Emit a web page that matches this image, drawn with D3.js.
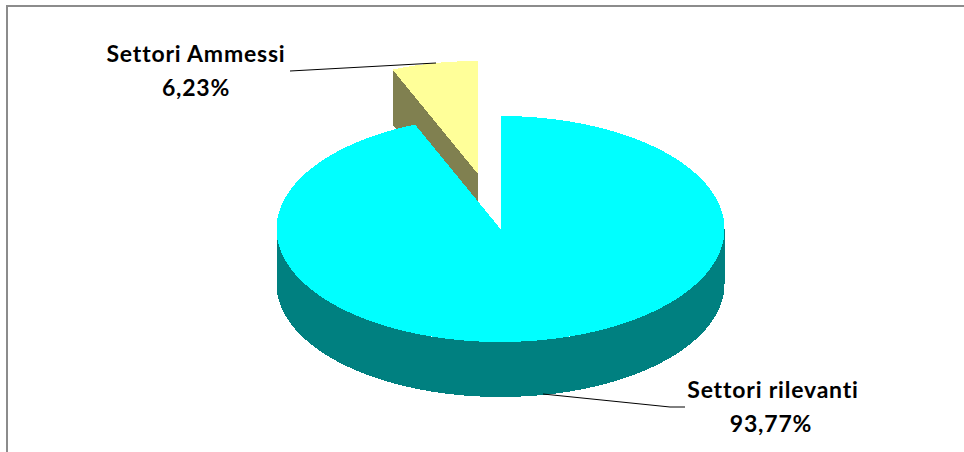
<!DOCTYPE html>
<html><head><meta charset="utf-8">
<script src="https://cdnjs.cloudflare.com/ajax/libs/d3/7.8.5/d3.min.js"></script>
<style>html,body{margin:0;padding:0;background:#fff}svg{display:block}</style></head>
<body><svg id="c" width="964" height="452"></svg>
<script>
const categories = ["Settori rilevanti", "Settori Ammessi"];
const values = [93.77, 6.23];
const valueLabels = ["93,77%", "6,23%"];

const topColors = ["#00FFFF", "#FFFF99"];
const wallColors = ["#008080", "#808050"];

const W = 964, H = 452;
const cx = 500.5, cy = 229, rx = 224, ry = 113, depth = 55;
const explode = [[0, 0], [-22.5, -55]];

const svg = d3.select("#c");
svg.append("rect").attr("width", W).attr("height", H).attr("fill", "#fff");
svg.append("path").attr("d", `M7,${H}V6H${W}`).attr("fill", "none").attr("stroke", "#8c8c8c").attr("stroke-width", 2);

const arcs = d3.pie().sort(null)(values);
const xS = d3.scaleLinear().domain([-1, 1]).range([cx - rx, cx + rx]);
const yS = d3.scaleLinear().domain([-1, 1]).range([cy - ry, cy + ry]);
const px = (a, r = 1) => xS(r * Math.sin(a));
const py = (a, r = 1) => yS(-r * Math.cos(a));
const line = d3.line();

function sector(a0, a1) {
  const n = Math.ceil((a1 - a0) / 0.01);
  const pts = [[cx, cy]];
  d3.range(n + 1).forEach(i => { const a = a0 + (a1 - a0) * i / n; pts.push([px(a), py(a)]); });
  return line(pts) + "Z";
}
function outerWall(a0, a1) {
  const n = Math.ceil((a1 - a0) / 0.01);
  const as = d3.range(n + 1).map(i => a0 + (a1 - a0) * i / n);
  const t = as.map(a => [px(a), py(a)]);
  const b = as.slice().reverse().map(a => [px(a), py(a) + depth]);
  return line(t.concat(b)) + "Z";
}

// Exploded slice (behind): its left cut face, then its top
const small = svg.append("g").attr("transform", `translate(${explode[1][0]},${explode[1][1]})`).attr("shape-rendering", "crispEdges");
const ya = arcs[1].startAngle;
small.append("path")
  .attr("d", line([[cx, cy], [px(ya), py(ya)], [px(ya), py(ya) + depth], [cx, cy + depth]]) + "Z")
  .attr("fill", wallColors[1]);
small.append("path").attr("d", sector(arcs[1].startAngle, arcs[1].endAngle)).attr("fill", topColors[1]);

// Main slice: round wall, then top
const big = svg.append("g").attr("shape-rendering", "crispEdges");
big.append("path").attr("d", outerWall(Math.PI / 2, 3 * Math.PI / 2)).attr("fill", wallColors[0]);
big.append("path").attr("d", sector(arcs[0].startAngle, arcs[0].endAngle)).attr("fill", topColors[0]);

// Leader lines
const leaders = [[[543, 394], [670, 407], [685, 407]], [[290, 71], [436, 63]]];
leaders.forEach(l => svg.append("path").attr("d", line(l)).attr("fill", "none").attr("stroke", "#000").attr("stroke-width", 1));

// Labels
const labelPos = [[773, 398, 432], [196, 62, 96]];
categories.forEach((c, i) => {
  const g = svg.append("g").attr("font-family", "Lato, 'Open Sans', sans-serif").attr("font-weight", 700)
    .attr("font-size", 23).attr("letter-spacing", 0.8).attr("fill", "#000").attr("text-anchor", "middle");
  g.append("text").attr("x", labelPos[i][0]).attr("y", labelPos[i][1]).text(c);
  g.append("text").attr("x", labelPos[i][0] - (i ? 0 : 2)).attr("y", labelPos[i][2]).text(valueLabels[i]);
});
</script></body></html>
